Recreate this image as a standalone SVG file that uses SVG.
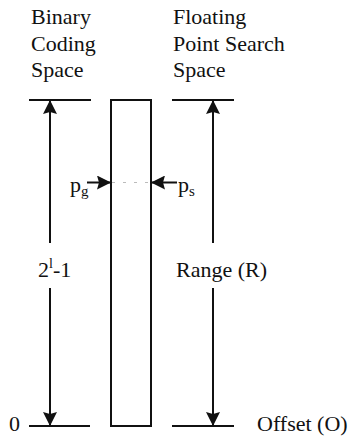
<svg xmlns="http://www.w3.org/2000/svg" width="349" height="439" viewBox="0 0 349 439">
<style>
.t{font-family:'Liberation Serif','DejaVu Serif',serif;font-size:22px;fill:#111}
.ln{stroke:#111;stroke-width:2;fill:none}
.ar{stroke:#111;stroke-width:2;fill:none;marker-end:url(#ah)}
</style>
<defs>
<marker id="ah" markerUnits="userSpaceOnUse" markerWidth="14" markerHeight="14" refX="14" refY="7" orient="auto" viewBox="0 0 14 14">
<path d="M0,0 L14,7 L0,14 L2,7 z" fill="#111"/>
</marker>
</defs>
<rect width="349" height="439" fill="#fff"/>
<g id="binary-label" class="t" font-family="Liberation Serif, serif">
<text x="31" y="24">Binary</text>
<text x="31" y="50.5">Coding</text>
<text x="31" y="77">Space</text>
</g>
<g id="float-label" class="t" font-family="Liberation Serif, serif">
<text x="173" y="24">Floating</text>
<text x="173" y="50.5">Point Search</text>
<text x="173" y="77">Space</text>
</g>
<g id="binary-axis">
<line class="ln" x1="29" y1="100" x2="91" y2="100"/>
<line class="ln" x1="29" y1="426" x2="90" y2="426"/>
<text class="t" font-family="Liberation Serif, serif" x="38" y="277">2<tspan dy="-9" font-size="14">l</tspan><tspan dy="9">-1</tspan></text>
<text class="t" font-family="Liberation Serif, serif" x="9" y="431">0</text>
</g>
<g id="bar">
<rect class="ln" x="111" y="100" width="40" height="326"/>
</g>
<g id="float-axis">
<line class="ln" x1="172" y1="100" x2="234" y2="100"/>
<line class="ln" x1="172" y1="426" x2="234" y2="426"/>
<text class="t" font-family="Liberation Serif, serif" x="176" y="277">Range (R)</text>
<text class="t" font-family="Liberation Serif, serif" x="257" y="431">Offset (O)</text>
</g>
<g id="pointers" class="t" font-family="Liberation Serif, serif">
<text x="70" y="192">p<tspan dy="4" font-size="15">g</tspan></text>
<text x="178" y="192">p<tspan dy="4" font-size="15">s</tspan></text>
</g>
<g id="connectors">
<line class="ar" x1="50" y1="243" x2="50" y2="100"/>
<line class="ar" x1="50" y1="288" x2="50" y2="426"/>
<line class="ar" x1="213" y1="243" x2="213" y2="100"/>
<line class="ar" x1="213" y1="288" x2="213" y2="426"/>
<line class="ar" x1="87" y1="182.5" x2="111" y2="182.5"/>
<line class="ar" x1="177" y1="182.5" x2="151" y2="182.5"/>
<line x1="112" y1="182.5" x2="150" y2="182.5" stroke="#bbb" stroke-width="1" stroke-dasharray="3,8"/>
</g>
</svg>
